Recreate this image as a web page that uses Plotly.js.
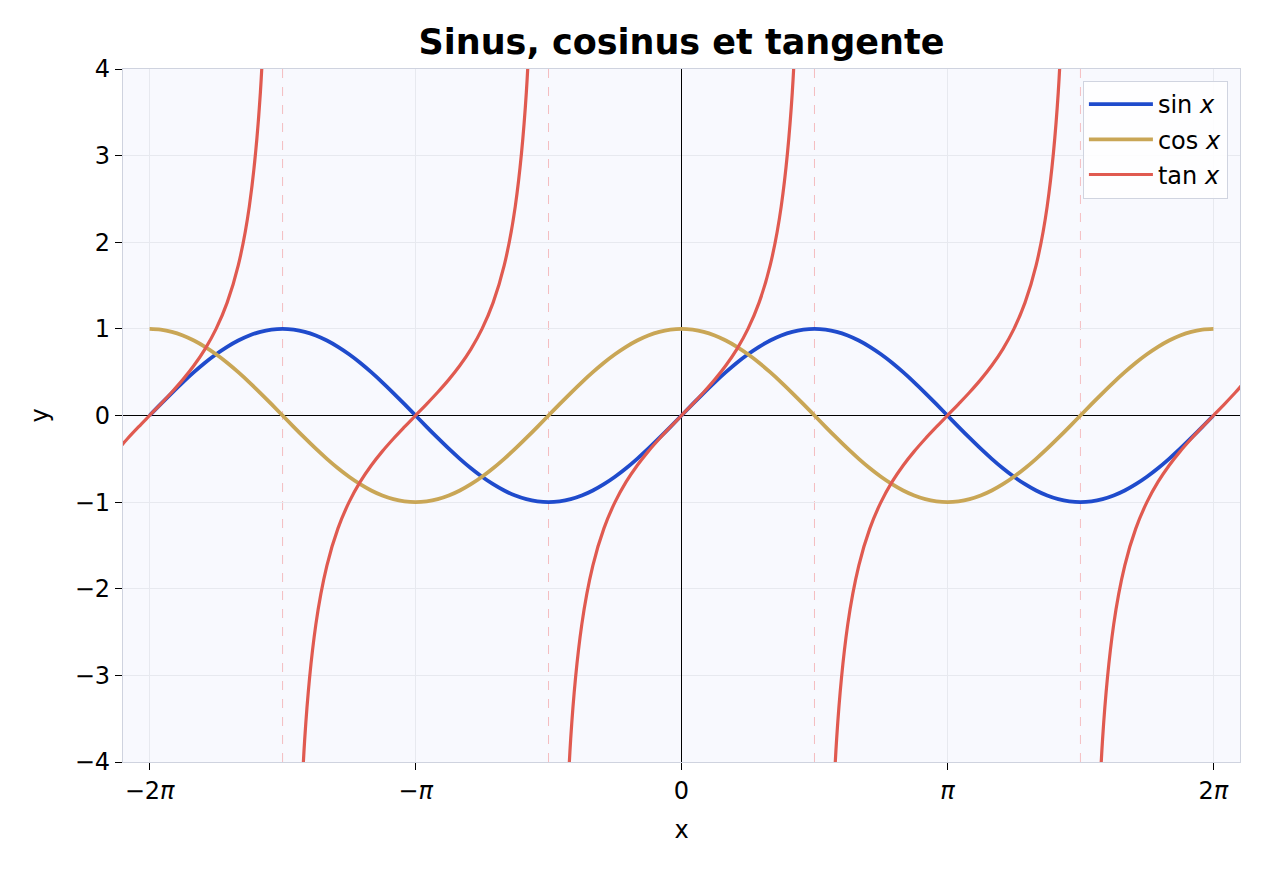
<!DOCTYPE html>
<html>
<head>
<meta charset="utf-8">
<script src="https://cdn.plot.ly/plotly-3.0.1.min.js"></script>
<style>
  html, body { margin: 0; padding: 0; background: #fff; }
  #plot { width: 1267px; height: 873px; }
</style>
</head>
<body>
<div id="plot"></div>
<script>
// x in degrees, step 7.5 (tick labels show multiples of pi)
const xDeg = [
  -360, -352.5, -345, -337.5, -330, -322.5, -315, -307.5, -300, -292.5, -285, -277.5,
  -270, -262.5, -255, -247.5, -240, -232.5, -225, -217.5, -210, -202.5, -195, -187.5,
  -180, -172.5, -165, -157.5, -150, -142.5, -135, -127.5, -120, -112.5, -105, -97.5,
  -90, -82.5, -75, -67.5, -60, -52.5, -45, -37.5, -30, -22.5, -15, -7.5,
  0, 7.5, 15, 22.5, 30, 37.5, 45, 52.5, 60, 67.5, 75, 82.5,
  90, 97.5, 105, 112.5, 120, 127.5, 135, 142.5, 150, 157.5, 165, 172.5,
  180, 187.5, 195, 202.5, 210, 217.5, 225, 232.5, 240, 247.5, 255, 262.5,
  270, 277.5, 285, 292.5, 300, 307.5, 315, 322.5, 330, 337.5, 345, 352.5,
  360
];

const sinY = [
  0, 0.131, 0.259, 0.383, 0.5, 0.609, 0.707, 0.793, 0.866, 0.924, 0.966, 0.991,
  1, 0.991, 0.966, 0.924, 0.866, 0.793, 0.707, 0.609, 0.5, 0.383, 0.259, 0.131,
  0, -0.131, -0.259, -0.383, -0.5, -0.609, -0.707, -0.793, -0.866, -0.924, -0.966, -0.991,
  -1, -0.991, -0.966, -0.924, -0.866, -0.793, -0.707, -0.609, -0.5, -0.383, -0.259, -0.131,
  0, 0.131, 0.259, 0.383, 0.5, 0.609, 0.707, 0.793, 0.866, 0.924, 0.966, 0.991,
  1, 0.991, 0.966, 0.924, 0.866, 0.793, 0.707, 0.609, 0.5, 0.383, 0.259, 0.131,
  0, -0.131, -0.259, -0.383, -0.5, -0.609, -0.707, -0.793, -0.866, -0.924, -0.966, -0.991,
  -1, -0.991, -0.966, -0.924, -0.866, -0.793, -0.707, -0.609, -0.5, -0.383, -0.259, -0.131,
  0
];

const cosY = [
  1, 0.991, 0.966, 0.924, 0.866, 0.793, 0.707, 0.609, 0.5, 0.383, 0.259, 0.131,
  0, -0.131, -0.259, -0.383, -0.5, -0.609, -0.707, -0.793, -0.866, -0.924, -0.966, -0.991,
  -1, -0.991, -0.966, -0.924, -0.866, -0.793, -0.707, -0.609, -0.5, -0.383, -0.259, -0.131,
  0, 0.131, 0.259, 0.383, 0.5, 0.609, 0.707, 0.793, 0.866, 0.924, 0.966, 0.991,
  1, 0.991, 0.966, 0.924, 0.866, 0.793, 0.707, 0.609, 0.5, 0.383, 0.259, 0.131,
  0, -0.131, -0.259, -0.383, -0.5, -0.609, -0.707, -0.793, -0.866, -0.924, -0.966, -0.991,
  -1, -0.991, -0.966, -0.924, -0.866, -0.793, -0.707, -0.609, -0.5, -0.383, -0.259, -0.131,
  0, 0.131, 0.259, 0.383, 0.5, 0.609, 0.707, 0.793, 0.866, 0.924, 0.966, 0.991,
  1
];

// tan runs a bit past the sin/cos range, to the plot edges; null at the asymptotes
const tanX = [-382.5, -375, -367.5].concat(xDeg, [367.5, 375, 382.5]);
const tanY = [
  -0.414, -0.268, -0.132,
  0, 0.132, 0.268, 0.414, 0.577, 0.767, 1, 1.303, 1.732, 2.414, 3.732, 7.596,
  null, -7.596, -3.732, -2.414, -1.732, -1.303, -1, -0.767, -0.577, -0.414, -0.268, -0.132,
  0, 0.132, 0.268, 0.414, 0.577, 0.767, 1, 1.303, 1.732, 2.414, 3.732, 7.596,
  null, -7.596, -3.732, -2.414, -1.732, -1.303, -1, -0.767, -0.577, -0.414, -0.268, -0.132,
  0, 0.132, 0.268, 0.414, 0.577, 0.767, 1, 1.303, 1.732, 2.414, 3.732, 7.596,
  null, -7.596, -3.732, -2.414, -1.732, -1.303, -1, -0.767, -0.577, -0.414, -0.268, -0.132,
  0, 0.132, 0.268, 0.414, 0.577, 0.767, 1, 1.303, 1.732, 2.414, 3.732, 7.596,
  null, -7.596, -3.732, -2.414, -1.732, -1.303, -1, -0.767, -0.577, -0.414, -0.268, -0.132,
  0, 0.132, 0.268, 0.414
];

const asymptotes = [-270, -90, 90, 270];
const tickVals = [-360, -180, 0, 180, 360];
const tickText = ["\u22122<i>\u03c0</i>", "\u2212<i>\u03c0</i>", "0", "<i>\u03c0</i>", "2<i>\u03c0</i>"];

const FONT = "DejaVu Sans, sans-serif";

const traces = [
  {
    x: xDeg, y: sinY, type: "scatter", mode: "lines",
    line: { color: "#1f4bcc", width: 3.8, shape: "spline" },
    name: "sin <i>x</i>", legendgroup: "a",
  },
  {
    x: xDeg, y: cosY, type: "scatter", mode: "lines",
    line: { color: "#c9a656", width: 3.8, shape: "spline" },
    name: "cos <i>x</i>", legendgroup: "b",
  },
  {
    x: tanX, y: tanY, type: "scatter", mode: "lines",
    line: { color: "#e05a50", width: 3.2, shape: "spline" },
    connectgaps: false,
    name: "tan <i>x</i>", legendgroup: "c",
  },
];

const shapes = asymptotes.map((a) => ({
  type: "line", xref: "x", yref: "paper",
  x0: a, x1: a, y0: 0, y1: 1,
  line: { color: "rgba(240,140,140,0.55)", width: 1, dash: "dash" },
  layer: "below",
}));

Plotly.newPlot("plot", traces, {
  width: 1267,
  height: 873,
  paper_bgcolor: "#ffffff",
  plot_bgcolor: "#f8f9fe",
  font: { family: FONT, size: 24, color: "#000" },
  margin: { l: 123, r: 27, t: 69, b: 111 },
  title: {
    text: "Sinus, cosinus et tangente",
    font: { family: FONT, size: 35, weight: "bold", color: "#000" },
    x: 0.5, xref: "paper",
    y: 0.952, yref: "container", yanchor: "middle",
  },
  xaxis: {
    range: [-378, 378],
    tickvals: tickVals,
    ticktext: tickText,
    ticks: "outside", ticklen: 7, tickwidth: 1.2, tickcolor: "#000",
    showgrid: true, gridcolor: "#e7e9ef", gridwidth: 1,
    zeroline: true, zerolinecolor: "#000", zerolinewidth: 1.2,
    showline: true, linecolor: "#cfd3df", linewidth: 1.2, mirror: true,
    tickfont: { size: 24 },
    title: { text: "x", font: { size: 24 }, standoff: 17 },
  },
  yaxis: {
    range: [-4, 4],
    dtick: 1,
    ticks: "outside", ticklen: 7, tickwidth: 1.2, tickcolor: "#000",
    showgrid: true, gridcolor: "#e7e9ef", gridwidth: 1,
    zeroline: true, zerolinecolor: "#000", zerolinewidth: 1.2,
    showline: true, linecolor: "#cfd3df", linewidth: 1.2, mirror: true,
    tickfont: { size: 24 },
    title: { text: "y", font: { size: 24 }, standoff: 19 },
  },
  shapes: shapes,
  showlegend: true,
  legend: {
    x: 0.989, xanchor: "right",
    y: 0.983, yanchor: "top",
    bgcolor: "rgba(255,255,255,0.85)",
    bordercolor: "#d0d4e0", borderwidth: 1.2,
    font: { size: 24 },
    itemwidth: 64,
    traceorder: "grouped",
    tracegroupgap: 1,
  },
}, { displayModeBar: false });
</script>
</body>
</html>
